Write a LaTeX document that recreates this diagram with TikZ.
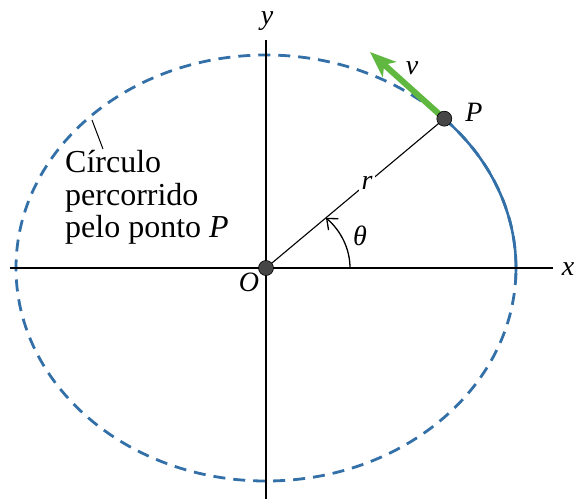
\documentclass[tikz,border=0pt]{standalone}
\usepackage{fontspec}
\setmainfont{Liberation Serif}
\newfontfamily\serifface{Liberation Serif}
\usetikzlibrary{arrows.meta}
\definecolor{orbitblue}{RGB}{52,112,168}
\definecolor{velgreen}{RGB}{96,184,64}
\definecolor{dotgray}{RGB}{70,70,70}
\tikzset{
  axis/.style={line width=1.4pt, black},
  orbit/.style={orbitblue, line width=2.8pt, dash pattern=on 12pt off 8pt},
  pathsolid/.style={orbitblue, line width=2.6pt},
  dotnode/.style={circle, fill=dotgray, draw=black, line width=0.6pt, minimum size=15pt, inner sep=0pt},
  lbl/.style={font=\serifface\fontsize{28}{30}\selectfont\itshape, inner sep=0pt},
  txt/.style={font=\serifface\fontsize{32}{34}\selectfont, inner sep=0pt, anchor=base west},
}
\begin{document}
\begin{tikzpicture}[x=1pt,y=1pt]
\useasboundingbox (-266,-231) rectangle (310,268);
% orbit
\draw[orbit] (0,0) ellipse [x radius=250, y radius=213];
\draw[pathsolid] (0,0) ++(-3:250 and 213) arc [start angle=-3, end angle=44.5, x radius=250, y radius=213];
% axes
\coordinate (xl) at (-256,0);
\coordinate (xr) at (287,0);
\coordinate (yt) at (0,228);
\coordinate (yb) at (0,-231);
\draw[axis] (xl) -- (xr);
\draw[axis] (yt) -- (yb);
\node[lbl] (xlab) at (302,-1) {x};
\node[lbl] (ylab) at (1,247) {y};
% points
\coordinate (Oc) at (0,0);
\coordinate (Pc) at (178.3,149.3);
\draw[line width=1.1pt] (Oc) -- (Pc);
% angle
\draw[line width=1.3pt, -{Straight Barb[length=9pt,width=15pt]}] (84,0) arc [start angle=0, end angle=44.5, x radius=84, y radius=71.6];
% velocity
\coordinate (vt) at (104,216);
\draw[velgreen, line width=6pt, -{Stealth[length=26pt,width=20pt,inset=7pt]}] (Pc) -- (vt);
\node[dotnode] (O) at (Oc) {};
\node[dotnode] (P) at (Pc) {};
\node[lbl] (vlab) at (146,200) {v};
\node[lbl] (plab) at (208,156) {P};
\node[lbl] (olab) at (-17,-14) {O};
\node[lbl, fill=white, inner sep=3pt] (rlab) at (101,85) {r};
\node[lbl] (thlab) at (94,32) {θ};
% text
\node[txt] (circ1) at (-201,96) {Círculo};
\node[txt] (circ2) at (-201,63) {percorrido};
\node[txt] (circ3) at (-201,31) {pelo ponto \textit{P}};
\coordinate (lead1) at (-174,148);
\coordinate (lead2) at (-163,119);
\draw[line width=1pt] (lead1) -- (lead2);
\end{tikzpicture}
\end{document}
